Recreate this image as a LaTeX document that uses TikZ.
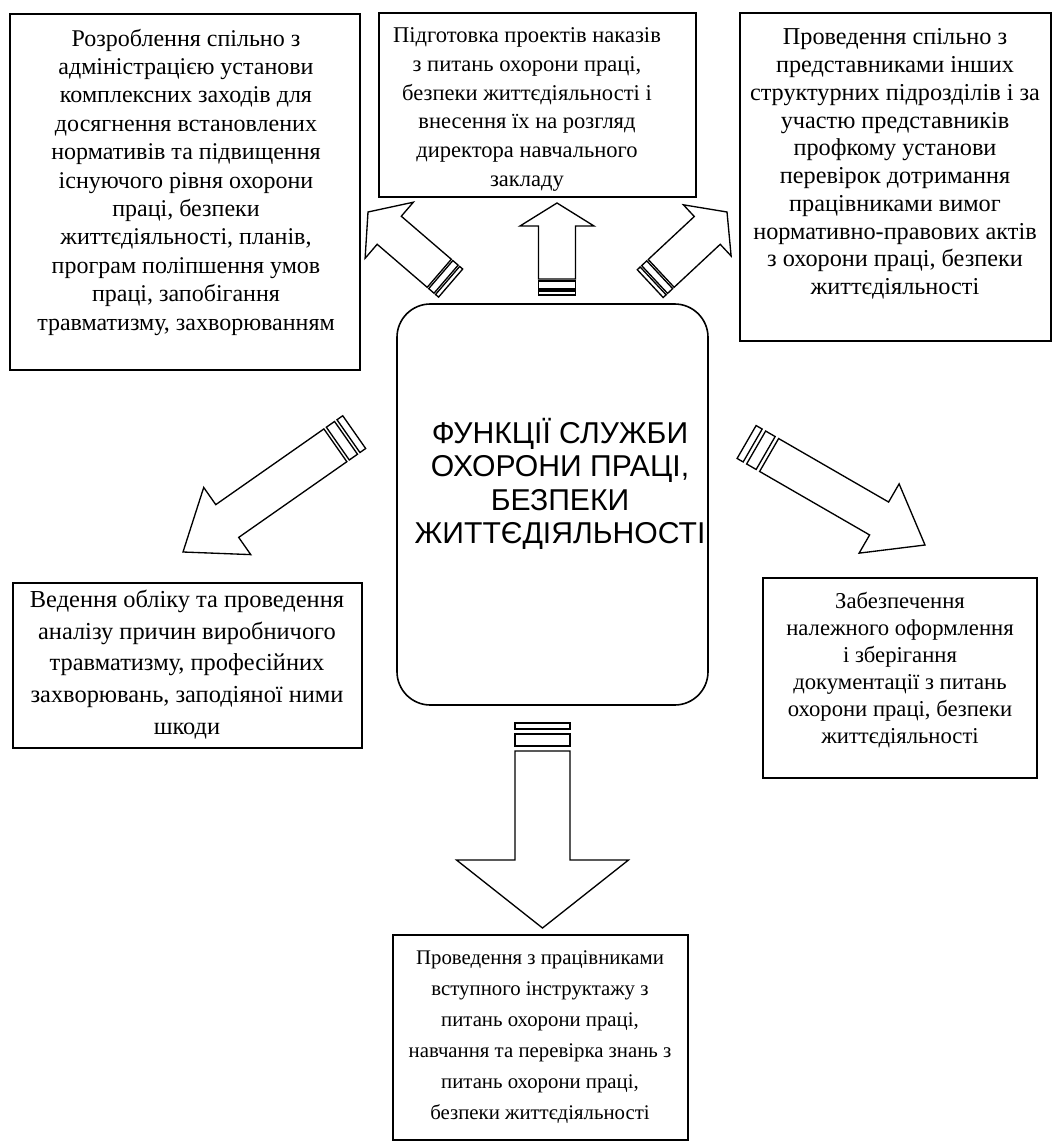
\documentclass[tikz,border=0pt]{standalone}
\usepackage{fontspec}
\setmainfont{Liberation Serif}
\newfontfamily\titlefont{Liberation Sans}
\tikzset{
  box/.style={draw, line width=1.2pt},
  boxtext/.style={align=center, inner sep=0pt},
  blk/.style={draw, line width=1pt, fill=white, line join=miter},
}
% tip, rotation, head length, head half-width, shaft half-width, shaft length, gap, band1, band2
\newcommand{\blockarrow}[9]{%
  \begin{scope}[shift={(#1)}, rotate=#2]
    \draw[blk] (0,0) -- (-#3,#4) -- (-#3,#5) -- ({-#3-#6},#5) -- ({-#3-#6},-#5)
      -- (-#3,-#5) -- (-#3,-#4) -- cycle;
    \draw[blk] ({-#3-#6-#7},#5) rectangle ({-#3-#6-#7-#8},-#5);
    \draw[blk] ({-#3-#6-2*#7-#8},#5) rectangle ({-#3-#6-2*#7-#8-#9},-#5);
  \end{scope}}
\begin{document}
\begin{tikzpicture}[x=0.75pt,y=-0.75pt]
\useasboundingbox (0,0) rectangle (1063,1148);
\fill[white] (0,0) rectangle (1063,1148);

% boxes
\draw[box] (10,14) rectangle (360,370);
\draw[box] (379,13) rectangle (696,197);
\draw[box] (740,13) rectangle (1051,341);
\draw[box] (13,583) rectangle (362,748);
\draw[box] (763,578) rectangle (1037,778);
\draw[box] (393,935) rectangle (688,1140);
\draw[box, rounded corners=25pt] (397,304) rectangle (708,705);

% texts
\node[boxtext, font=\fontsize{18}{21.3}\selectfont] (tA) at (186,182) {Розроблення спільно з\\адміністрацією установи\\комплексних заходів для\\досягнення встановлених\\нормативів та підвищення\\існуючого рівня охорони\\праці, безпеки\\життєдіяльності, планів,\\програм поліпшення умов\\праці, запобігання\\травматизму, захворюванням};
\node[boxtext, font=\fontsize{16.9}{21.7}\selectfont] (tB) at (527,109.5) {Підготовка проектів наказів\\з питань охорони праці,\\безпеки життєдіяльності і\\внесення їх на розгляд\\директора навчального\\закладу};
\node[boxtext, font=\fontsize{18.2}{20.8}\selectfont] (tC) at (895,164) {Проведення спільно з\\представниками інших\\структурних підрозділів і за\\участю представників\\профкому установи\\перевірок дотримання\\працівниками вимог\\нормативно-правових актів\\з охорони праці, безпеки\\життєдіяльності};
\node[boxtext, font=\fontsize{18.3}{23.8}\selectfont] (tD) at (187,664.5) {Ведення обліку та проведення\\аналізу причин виробничого\\травматизму, професійних\\захворювань, заподіяної ними\\шкоди};
\node[boxtext, font=\fontsize{17}{20.2}\selectfont] (tE) at (900,670) {Забезпечення\\належного оформлення\\і зберігання\\документації з питань\\охорони праці, безпеки\\життєдіяльності};
\node[boxtext, font=\fontsize{15.6}{23.2}\selectfont] (tF) at (540,1037) {Проведення з працівниками\\вступного інструктажу з\\питань охорони праці,\\навчання та перевірка знань з\\питань охорони праці,\\безпеки життєдіяльності};
\node[boxtext, font=\titlefont\fontsize{22.6}{25}\selectfont] (title) at (560,484) {ФУНКЦІЇ СЛУЖБИ\\ОХОРОНИ ПРАЦІ,\\БЕЗПЕКИ\\ЖИТТЄДІЯЛЬНОСТІ};

% arrow tips
\coordinate (pUp) at (557,203);
\coordinate (pUL) at (368,212);
\coordinate (pUR) at (727,212);
\coordinate (pLL) at (183,552);
\coordinate (pLR) at (925,545);
\coordinate (pDn) at (542.5,928);

\blockarrow{pUp}{90}{23}{37}{18.5}{53}{2}{8}{4}
\blockarrow{pUL}{139.3}{28}{37}{18.5}{66}{2}{7}{4}
\blockarrow{pUR}{43}{27}{35}{19}{63}{2}{7}{4}
\blockarrow{pLL}{-145}{54}{41}{20}{132}{3}{10}{7}
\blockarrow{pLR}{-30}{53}{40}{19}{127}{4}{11}{7}
\blockarrow{pDn}{-90}{68}{86}{27.5}{109}{5}{12}{6}
\end{tikzpicture}
\end{document}
